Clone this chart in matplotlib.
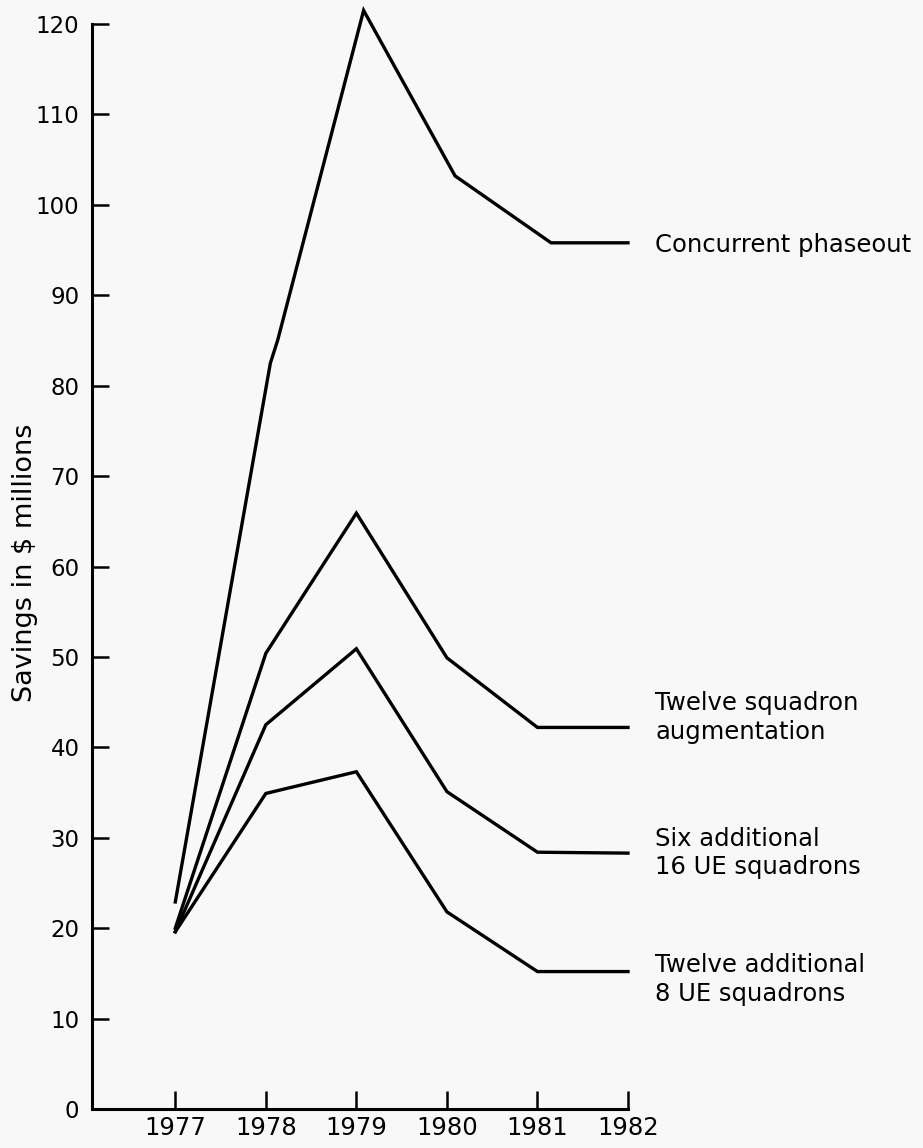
import matplotlib
matplotlib.use("Agg")
import matplotlib.pyplot as plt

# x positions of the years and values ($ millions)
years = [1977, 1978, 1979, 1980, 1981, 1982]
year_labels = ['1977', '1978', '1979', '1980', '1981', '1982']

# concurrent phaseout line is drawn slightly to the right of the ticks in the original
concurrent_x = [1977, 1978.05, 1978.13, 1979.08, 1980.09, 1981.15, 1982]
concurrent = [22.9, 82.5, 85.0, 121.5, 103.2, 95.8, 95.8]
twelve_aug = [20.0, 50.4, 65.9, 49.9, 42.2, 42.2]
six_16ue = [19.6, 42.5, 50.9, 35.1, 28.4, 28.3]
twelve_8ue = [19.6, 34.9, 37.3, 21.8, 15.2, 15.2]

label_names = ['Concurrent phaseout',
               'Twelve squadron\naugmentation',
               'Six additional\n16 UE squadrons',
               'Twelve additional\n8 UE squadrons']
label_y = [95.6, 43.3, 28.3, 14.3]

yticks = list(range(0, 121, 10))

bg = '#f8f8f8'
fig = plt.figure(figsize=(9.23, 11.48), dpi=100, facecolor=bg)
ax = fig.add_axes([92/923, 39/1148, 536/923, 1085/1148])
ax.set_facecolor(bg)

lw = 2.4
for xs, ys in [(concurrent_x, concurrent), (years, twelve_aug),
               (years, six_16ue), (years, twelve_8ue)]:
    ax.plot(xs, ys, color='black', lw=lw, clip_on=False, solid_joinstyle='miter')

ax.set_xlim(1976.08, 1982)
ax.set_ylim(0, 120)

for sp in ['top', 'right']:
    ax.spines[sp].set_visible(False)
ax.spines['left'].set_linewidth(2.2)
ax.spines['bottom'].set_linewidth(2.2)

ax.set_xticks(years)
ax.set_xticklabels(year_labels, fontsize=17.5)
ax.set_yticks(yticks)
ax.set_yticklabels([str(v) for v in yticks], fontsize=16.5)
ax.tick_params(axis='x', direction='in', length=13, width=1.8, pad=5)
ax.tick_params(axis='y', direction='in', length=12, width=1.8, pad=9)

for name, yv in zip(label_names, label_y):
    ax.text(1982.3, yv, name, fontsize=17.5, va='center', ha='left',
            linespacing=1.25, clip_on=False)

fig.text(25/923, 1 - 563/1148, 'Savings in $ millions', rotation=90,
         fontsize=19.5, va='center', ha='center')

fig.savefig('out.png', dpi=100, facecolor=bg)
